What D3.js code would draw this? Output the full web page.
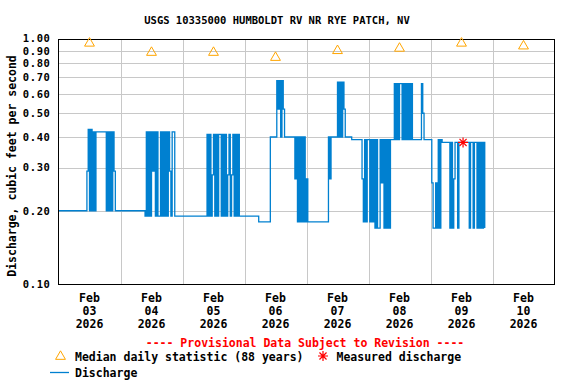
<!DOCTYPE html>
<html><head><meta charset="utf-8">
<script src="https://cdn.jsdelivr.net/npm/d3@7"></script>
<style>
html,body{margin:0;padding:0;background:#fff;}
text{font-family:"DejaVu Sans Mono",monospace;font-weight:bold;}
</style>
</head><body>
<svg id="chart" width="576" height="384"></svg>
<script>
// ---------- DATA ----------
const title = "USGS 10335000 HUMBOLDT RV NR RYE PATCH, NV";
const yAxisTitle = "Discharge, cubic feet per second";
const yTicks = [0.10,0.20,0.30,0.40,0.50,0.60,0.70,0.80,0.90,1.00];
const xTickMonth = ["Feb","Feb","Feb","Feb","Feb","Feb","Feb","Feb"];
const xTickDay = ["03","04","05","06","07","08","09","10"];
const xTickYear = ["2026","2026","2026","2026","2026","2026","2026","2026"];
const startDate = Date.UTC(2026,1,3);   // Feb 3 2026 00:00
const endDate = Date.UTC(2026,1,11);
// Median daily statistic (88 years), at noon of each day
const medianDays = [3,4,5,6,7,8,9,10];
const medianValues = [0.965,0.885,0.885,0.844,0.90,0.92,0.965,0.94];
// Measured discharge
const measuredTime = [Date.UTC(2026,1,9,12,36)];
const measuredValue = [0.38];
// Discharge, cfs, half-hourly values from Feb 3 00:00
const feb03 = [.2,.2,.2,.2,.2,.2,.2,.2,.2,.2,.2,.2,.2,.2,.2,.2,.2,.2,.2,.2,.2,.2,
  .29,.43,.2,.43,.2,.42,.2,.42,
  .42,.42,.42,.42,.42,.42,.42,
  .2,.42,.2,.42,.2,.42,.29,
  .2,.2,.2,.2];
const feb04 = [.2,.2,.2,.2,.2,.2,.2,.2,.2,.2,.2,.2,.2,.2,.2,.2,.2,.2,.2,
  .19,
  .42,.19,.42,.19,.42,.29,.42,.19,.42,.19,.19,.42,.19,.42,.19,.42,.19,.42,.29,.19,.42,.42,
  .19,.19,.19,.19,.19,.19];
const feb05 = [.19,.19,.19,.19,.19,.19,.19,.19,.19,.19,.19,.19,.19,.19,.19,.19,.19,.19,.19,
  .41,.19,.41,.19,.28,.41,.19,.41,.19,.41,.41,.19,.41,.19,.41,.19,.28,.41,.19,.28,.41,.19,.41,.19,.41,
  .19,.19,.19,.19];
const feb06 = [.19,.19,.19,.19,.19,.19,.19,.19,.19,.19,.19,
  .18,.18,.18,.18,.18,.18,.18,.18,.18,
  .40,.40,.40,.40,.40,
  .68,.52,.68,.40,.68,.52,
  .40,.40,.40,.40,.40,.40,.40,.40,
  .27,.40,.18,.40,.18,.40,.18,.40,
  .18];
const feb07 = [.27,
  .18,.18,.18,.18,.18,.18,.18,.18,.18,.18,.18,.18,.18,.18,.18,.18,
  .40,.27,
  .40,.40,.40,.40,.40,
  .67,.40,.67,.40,.67,.52,
  .40,.40,.40,.40,.40,
  .39,.39,.39,.39,.39,.39,.39,.39,
  .27,.18,.39,.18,.39];
const feb08 = [.39,.18,.39,.18,.39,.17,.39,.17,.17,.39,.26,.39,.17,.39,.17,.39,.17,
  .39,.39,.39,
  .66,.39,.66,.39,.66,.66,.39,.66,.39,.66,.39,.66,.39,.66,
  .39,.39,.39,.39,.39,.39,.39,
  .66,.50,
  .39,.39,.39,.39,.39];
const feb09 = [.39,.26,.17,.17,.26,.17,.39,.17,.39,
  .38,.38,.38,.38,.38,.38,
  .17,.38,.17,.27,.38,.38,
  .17,
  .38,.38,.38,.38,.38,.38,.38,.38,
  .17,.38,.38,.17,.38,.38,
  .17,.38,.17,.38,.17,.38,.17];

// ---------- BUILD ----------
const dischargeValues = [].concat(feb03,feb04,feb05,feb06,feb07,feb08,feb09);
const HALF_HOUR = 30*60*1000;
const discharge = dischargeValues.map((v,i)=>({t:new Date(startDate + i*HALF_HOUR), v}));

const svg = d3.select("#chart");
const L = 58.5, R = 554.5, T = 39.5, B = 284.5;
const x = d3.scaleUtc().domain([new Date(startDate), new Date(endDate)]).range([L, R]);
const y = d3.scaleLog().domain([0.1, 1]).range([B, T]);

const gridColor = "#c8c8c8";
// horizontal grid
svg.append("g").selectAll("line").data(yTicks.filter(d=>d>0.1 && d<1)).join("line")
  .attr("x1", L).attr("x2", R)
  .attr("y1", d=>Math.round(y(d))+0.5).attr("y2", d=>Math.round(y(d))+0.5)
  .attr("stroke", gridColor).attr("stroke-width",1);
// vertical grid at midnights
const midnights = d3.utcDay.range(new Date(startDate + 86400000), new Date(endDate));
svg.append("g").selectAll("line").data(midnights).join("line")
  .attr("x1", d=>Math.round(x(d))+0.5).attr("x2", d=>Math.round(x(d))+0.5)
  .attr("y1", T).attr("y2", B)
  .attr("stroke", gridColor).attr("stroke-width",1);

// discharge line
const line = d3.line().curve(d3.curveStepAfter).x(d=>x(d.t)).y(d=>y(d.v));
svg.append("path").datum(discharge)
  .attr("d", line).attr("fill","none")
  .attr("stroke","#0080d0").attr("stroke-width",1.3);

// plot frame
svg.append("rect").attr("x",L).attr("y",T).attr("width",R-L).attr("height",B-T)
  .attr("fill","none").attr("stroke","#000").attr("stroke-width",1);

// y axis labels
const yAxis = d3.axisLeft(y).tickValues(yTicks).tickFormat(d3.format(".2f")).tickSize(0).tickPadding(8);
const gy = svg.append("g").attr("transform",`translate(${L},0)`).call(yAxis);
gy.select(".domain").remove();
gy.selectAll("text").attr("font-size","10.5px").attr("fill","#000")
  .attr("letter-spacing","0.6px")
  .style("font-family","'DejaVu Sans Mono',monospace").style("font-weight","bold");
gy.selectAll(".tick").filter(d=>d===1).select("text").attr("dy","0.2em");
gy.selectAll(".tick").filter(d=>d===0.9).select("text").attr("dy","0.4em");

// x axis labels (three lines) at noon
const noonDates = xTickDay.map((d,i)=>new Date(startDate + i*86400000 + 12*3600000));
const gx = svg.append("g");
noonDates.forEach((d,i)=>{
  const t = gx.append("text").attr("x", x(d)).attr("text-anchor","middle")
    .attr("font-size","11.5px").attr("fill","#000");
  [xTickMonth[i], xTickDay[i], xTickYear[i]].forEach((s,k)=>{
    t.append("tspan").attr("x", x(d)).attr("y", 302 + k*13).text(s);
  });
});

// medians
const tri = d3.symbol().type(d3.symbolTriangle).size(42);
svg.append("g").selectAll("path").data(medianDays).join("path")
  .attr("transform",(d,i)=>`translate(${x(new Date(Date.UTC(2026,1,d,12)))},${y(medianValues[i])})`)
  .attr("d", tri).attr("fill","none").attr("stroke","#ffa500").attr("stroke-width",1);

// measured asterisk
function asterisk(g, cx, cy, r){
  const p = d3.path();
  for(let k=0;k<4;k++){
    const a = k*Math.PI/4;
    p.moveTo(cx - r*Math.cos(a), cy - r*Math.sin(a));
    p.lineTo(cx + r*Math.cos(a), cy + r*Math.sin(a));
  }
  g.append("path").attr("d", p.toString()).attr("stroke","#ff0000").attr("stroke-width",1.2).attr("fill","none");
}
measuredTime.forEach((t,i)=>asterisk(svg, x(new Date(t)), y(measuredValue[i]), 5));

// title
svg.append("text").attr("x",277).attr("y",23.5).attr("text-anchor","middle")
  .attr("font-size","10.5px").attr("fill","#000").text(title);

// y axis title
svg.append("text").attr("transform","translate(16,166) rotate(-90)")
  .attr("text-anchor","middle").attr("font-size","11.5px").attr("fill","#000").text(yAxisTitle);

// provisional
svg.append("text").attr("x",305).attr("y",346.5).attr("text-anchor","middle")
  .attr("font-size","11.5px").attr("fill","#ff0000").text("---- Provisional Data Subject to Revision ----");

// legend
const lg = svg.append("g");
lg.append("path").attr("transform","translate(60.5,356.5)").attr("d", d3.symbol().type(d3.symbolTriangle).size(42))
  .attr("fill","none").attr("stroke","#ffa500").attr("stroke-width",1);
lg.append("text").attr("x",75).attr("y",360.5).attr("font-size","11.5px").attr("fill","#000")
  .text("Median daily statistic (88 years)");
asterisk(lg, 323, 356, 5);
lg.append("text").attr("x",336.5).attr("y",360.5).attr("font-size","11.5px").attr("fill","#000")
  .text("Measured discharge");
lg.append("line").attr("x1",50).attr("x2",69).attr("y1",372.5).attr("y2",372.5)
  .attr("stroke","#0080d0").attr("stroke-width",1.3);
lg.append("text").attr("x",75).attr("y",376.5).attr("font-size","11.5px").attr("fill","#000")
  .text("Discharge");
</script>
</body></html>
